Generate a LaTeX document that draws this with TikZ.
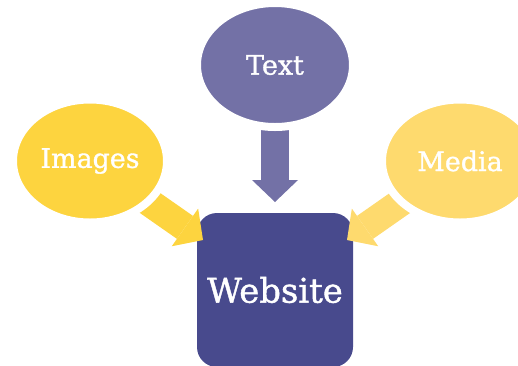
\documentclass[tikz,border=0pt]{standalone}
\usepackage{fontspec}
\setmainfont{DejaVu Serif}
\newfontfamily\bubblefont[FakeBold=1.2]{DejaVu Serif}
\usetikzlibrary{arrows.meta,shapes.geometric}
\definecolor{textpurple}{HTML}{7371A6}
\definecolor{webblue}{HTML}{484A8D}
\definecolor{imgyellow}{HTML}{FDD43F}
\definecolor{mediayellow}{HTML}{FEDA6E}
\tikzset{
    bubble/.style={ellipse,draw=white,line width=8bp,inner sep=0pt,text=white,font=\bubblefont\fontsize{27}{32}\selectfont},
    fatarrow/.style={line width=28bp,-{Triangle[length=22bp,width=46bp,line width=0pt]}}
}

\begin{document}
\begin{tikzpicture}[x=1bp,y=-1bp]
        \useasboundingbox (0,0) rectangle (518,365);
        \clip (0,0) rectangle (518,365);
        \node[rectangle,rounded corners=20bp,fill=webblue,minimum width=156bp,minimum height=154bp,text=white,font=\bubblefont\fontsize{34}{40}\selectfont] (web) at (275,290) {Website};
        \node[bubble,fill=textpurple,minimum width=156bp,minimum height=124bp] (txt) at (275,65) {Text};
        \node[bubble,fill=imgyellow,minimum width=154bp,minimum height=123bp] (img) at (90,161) {Images};
        \node[bubble,fill=mediayellow,minimum width=156bp,minimum height=123bp] (med) at (460,161) {Media};
        \coordinate (txttip) at (275,202);
        \coordinate (imgtip) at (203,240);
        \coordinate (medtip) at (347,240);
        \draw[fatarrow,textpurple] (txt.center) -- (txttip);
        \draw[fatarrow,imgyellow] (img.center) -- (imgtip);
        \draw[fatarrow,mediayellow] (med.center) -- (medtip);
        % bubbles again on top of the arrow tails
        \node[bubble,fill=textpurple,minimum width=156bp,minimum height=124bp] at (txt) {Text};
        \node[bubble,fill=imgyellow,minimum width=154bp,minimum height=123bp] at (img) {Images};
        \node[bubble,fill=mediayellow,minimum width=156bp,minimum height=123bp] at (med) {Media};
    \end{tikzpicture}
\end{document}
